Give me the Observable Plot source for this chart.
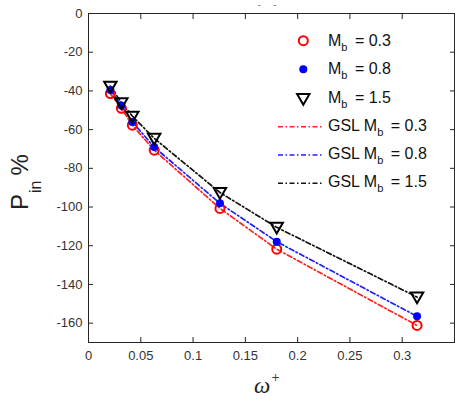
<!DOCTYPE html>
<html><head>
<meta charset="utf-8">
<script src="https://cdn.jsdelivr.net/npm/d3@7"></script>
<script src="https://cdn.jsdelivr.net/npm/@observablehq/plot@0.6"></script>
<style>body{margin:0;background:#fff;} #c{width:455px;height:399px;}</style>
</head><body><div id="c"></div>
<script>
// data
const omega = [0.0209, 0.0314, 0.0419, 0.0628, 0.1257, 0.1800, 0.3142];
const pin03 = [-41.4, -49.0, -57.7, -70.6, -100.7, -121.8, -161.2];
const pin08 = [-39.5, -47.5, -56.0, -69.0, -98.1, -117.9, -156.5];
const pin15 = [-37.1, -45.7, -52.6, -64.0, -92.0, -110.0, -146.0];
const gsl03 = [-41.4, -49.0, -57.7, -70.6, -100.7, -121.8, -161.2];
const gsl08 = [-39.5, -47.5, -56.0, -69.0, -98.1, -117.9, -156.5];
const gsl15 = [-37.5, -46.0, -53.0, -64.5, -92.5, -110.5, -146.5];
const xTicks = [0, 0.05, 0.1, 0.15, 0.2, 0.25, 0.3];
const xTickLabels = ["0", "0.05", "0.1", "0.15", "0.2", "0.25", "0.3"];
const yTicks = [0, -20, -40, -60, -80, -100, -120, -140, -160];
const legendLabels = ["0.3", "0.8", "1.5"];

const pts = (xs, ys) => xs.map((x, i) => ({x, y: ys[i]}));
const dash = "5,2.5,1.5,2.5";
const axisColor = "#262626";

const svg = Plot.plot({
  width: 455, height: 399,
  marginLeft: 88, marginRight: 1, marginTop: 13, marginBottom: 57,
  style: {fontFamily: "Liberation Sans, Arial, sans-serif", fontSize: "13px", color: axisColor, background: "white", overflow: "visible"},
  x: {domain: [0, 0.35]},
  y: {domain: [-170, 0]},
  marks: [
    Plot.frame({stroke: axisColor, strokeWidth: 1}),
    Plot.axisX(xTicks, {anchor: "bottom", tickSize: -5, tickPadding: 13, label: null, tickFormat: (d, i) => xTickLabels[i], fill: "#333"}),
    Plot.axisX(xTicks.concat([0.35]), {anchor: "top", tickSize: -5, label: null, tickFormat: () => ""}),
    Plot.axisY(yTicks, {anchor: "left", tickSize: -5, tickPadding: 11, label: null, tickFormat: d => String(d), fill: "#333"}),
    Plot.axisY(yTicks, {anchor: "right", tickSize: -5, label: null, tickFormat: () => ""}),
    Plot.line(pts(omega, gsl03), {x: "x", y: "y", stroke: "#ff2020", strokeWidth: 1.7, strokeDasharray: dash}),
    Plot.line(pts(omega, gsl08), {x: "x", y: "y", stroke: "#2020ff", strokeWidth: 1.7, strokeDasharray: dash}),
    Plot.line(pts(omega, gsl15), {x: "x", y: "y", stroke: "#111", strokeWidth: 1.7, strokeDasharray: dash}),
    Plot.dot(pts(omega, pin03), {x: "x", y: "y", r: 4.5, stroke: "#ff0000", strokeWidth: 2, fill: "none"}),
    Plot.dot(pts(omega, pin08), {x: "x", y: "y", r: 4, fill: "#0000ff", stroke: "none"}),
    Plot.dot(pts(omega, pin15), {x: "x", y: "y", symbol: "triangle", r: 4.6, rotate: 180, stroke: "#000", strokeWidth: 2, fill: "none"})
  ]
});
document.getElementById("c").appendChild(svg);

const s = d3.select(svg);
// y-axis label
const yl = s.append("text")
  .attr("transform", "translate(28,210) rotate(-90)")
  .attr("text-anchor", "start")
  .attr("font-family", "Liberation Sans, Arial, sans-serif")
  .attr("fill", "#222");
yl.append("tspan").attr("font-size", 24).text("P");
yl.append("tspan").attr("font-size", 16).attr("dy", 13).attr("dx", 1).text("in");
yl.append("tspan").attr("font-size", 24).attr("dy", -13).attr("dx", 5).text("%");

// x-axis label
const xl = s.append("text")
  .attr("x", 254).attr("y", 393)
  .attr("text-anchor", "start")
  .attr("font-family", "Liberation Serif, DejaVu Serif, serif")
  .attr("font-style", "italic").attr("fill", "#222");
xl.append("tspan").attr("font-size", 23).text("ω");
xl.append("tspan").attr("font-size", 15).attr("dy", -11).attr("dx", 1).attr("font-style", "normal").text("+");

// faint clipped title remnants
s.append("text").attr("x", 267).attr("y", 8).attr("text-anchor", "middle")
  .attr("font-size", 9).attr("fill", "#555").attr("font-family", "Liberation Sans, Arial, sans-serif").text("-     -");

// legend
const lg = s.append("g").attr("font-family", "Liberation Sans, Arial, sans-serif").attr("fill", "#111").attr("text-anchor", "start");
const rowY = [40.7, 69.3, 97.5, 126.7, 155, 183.3];
const colors = ["#ff2020", "#2020ff", "#111"];
function label(g, y, prefix, val) {
  const t = g.append("text").attr("x", 328).attr("y", y + 5).attr("font-size", 16).attr("text-anchor", "start");
  t.append("tspan").text(prefix + "M");
  t.append("tspan").attr("font-size", 11).attr("dy", 5).text("b");
  t.append("tspan").attr("dy", -5).attr("dx", 3).text(" = " + val);
}
// markers
lg.append("circle").attr("cx", 303.3).attr("cy", rowY[0]).attr("r", 4.5).attr("fill", "none").attr("stroke", "#ff0000").attr("stroke-width", 2);
lg.append("circle").attr("cx", 303.3).attr("cy", rowY[1]).attr("r", 4).attr("fill", "#0000ff");
lg.append("path").attr("transform", `translate(303.3,${rowY[2]}) rotate(180)`)
  .attr("d", d3.symbol(d3.symbolTriangle, Math.PI * 4.6 * 4.6)()).attr("fill", "none").attr("stroke", "#000").attr("stroke-width", 2);
for (let i = 0; i < 3; i++) label(lg, rowY[i], "", legendLabels[i]);
for (let i = 0; i < 3; i++) {
  lg.append("line").attr("x1", 278).attr("x2", 322).attr("y1", rowY[3 + i]).attr("y2", rowY[3 + i])
    .attr("stroke", colors[i]).attr("stroke-width", 1.6).attr("stroke-dasharray", dash);
  label(lg, rowY[3 + i] - 1, "GSL ", legendLabels[i]);
}
</script>
</body></html>
